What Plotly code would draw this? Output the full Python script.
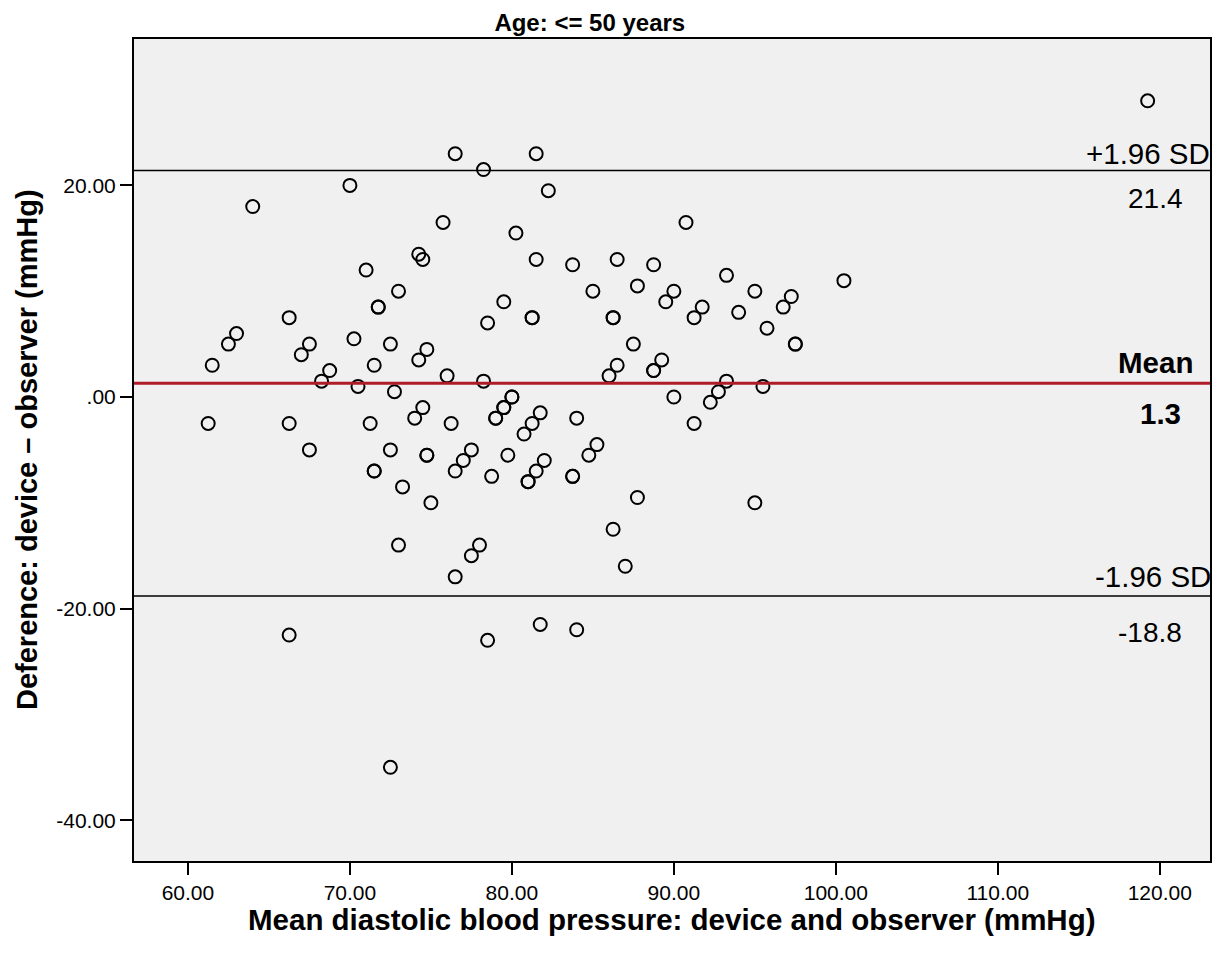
import plotly.graph_objects as go

# Mean of device and observer (x) and their difference (y)
mean_bp = [
    76.5, 78.25, 70.0, 64.0, 75.75, 74.25, 74.5, 71.0, 73.0, 71.75, 71.75, 66.25,
    81.5, 82.25, 90.75, 80.25, 81.5, 83.75, 86.5, 88.75, 85.0, 87.75, 90.0, 89.5,
    93.25, 95.0, 97.25, 96.75, 100.5, 79.5, 81.25, 81.25, 78.5, 86.25, 86.25, 91.75,
    91.25, 94.0, 95.75, 119.25,
    63.0, 62.5, 61.5, 67.5, 67.0, 70.25, 72.5, 74.75, 74.25, 71.5, 68.75, 68.25,
    70.5, 72.75, 76.0, 78.25, 61.25, 66.25, 71.25, 74.5, 74.0, 76.25, 67.5, 72.5,
    74.75, 74.75, 71.5, 71.5, 77.5, 77.0, 76.5, 73.25, 75.0, 73.0, 78.0, 77.5, 76.5,
    97.5, 97.5, 87.5, 86.5, 86.0, 89.25, 88.75, 88.75, 93.25, 92.75, 92.25, 95.5,
    80.0, 80.0, 79.5, 79.5, 79.0, 79.0, 90.0, 81.75, 81.25, 80.75, 84.0, 91.25,
    79.75, 78.75, 82.0, 81.5, 81.0, 81.0, 85.25, 84.75, 83.75, 83.75, 87.75, 95.0,
    86.25, 87.0,
    66.25, 78.5, 81.75, 84.0, 72.5,
]
diff_bp = [
    23.0, 21.5, 20.0, 18.0, 16.5, 13.5, 13.0, 12.0, 10.0, 8.5, 8.5, 7.5,
    23.0, 19.5, 16.5, 15.5, 13.0, 12.5, 13.0, 12.5, 10.0, 10.5, 10.0, 9.0,
    11.5, 10.0, 9.5, 8.5, 11.0, 9.0, 7.5, 7.5, 7.0, 7.5, 7.5, 8.5,
    7.5, 8.0, 6.5, 28.0,
    6.0, 5.0, 3.0, 5.0, 4.0, 5.5, 5.0, 4.5, 3.5, 3.0, 2.5, 1.5,
    1.0, 0.5, 2.0, 1.5, -2.5, -2.5, -2.5, -1.0, -2.0, -2.5, -5.0, -5.0,
    -5.5, -5.5, -7.0, -7.0, -5.0, -6.0, -7.0, -8.5, -10.0, -14.0, -14.0, -15.0, -17.0,
    5.0, 5.0, 5.0, 3.0, 2.0, 3.5, 2.5, 2.5, 1.5, 0.5, -0.5, 1.0,
    0.0, 0.0, -1.0, -1.0, -2.0, -2.0, 0.0, -1.5, -2.5, -3.5, -2.0, -2.5,
    -5.5, -7.5, -6.0, -7.0, -8.0, -8.0, -4.5, -5.5, -7.5, -7.5, -9.5, -10.0,
    -12.5, -16.0,
    -22.5, -23.0, -21.5, -22.0, -35.0,
]

mean_diff = 1.3
upper_loa = 21.4
lower_loa = -18.8

x_ticks = [60, 70, 80, 90, 100, 110, 120]
x_ticktext = ["60.00", "70.00", "80.00", "90.00", "100.00", "110.00", "120.00"]
y_ticks = [-40, -20, 0, 20]
y_ticktext = ["-40.00", "-20.00", ".00", "20.00"]

FONT = "Liberation Sans, Arial, sans-serif"

fig = go.Figure()
fig.add_trace(go.Scatter(
    x=mean_bp, y=diff_bp, mode="markers",
    marker=dict(symbol="circle-open", size=13, color="black",
                line=dict(width=2, color="black")),
    showlegend=False, hoverinfo="x+y",
))

# Limits of agreement and mean lines
fig.add_shape(type="line", xref="x domain", yref="y", x0=0, x1=1,
              y0=upper_loa, y1=upper_loa, line=dict(color="black", width=1.5))
fig.add_shape(type="line", xref="x domain", yref="y", x0=0, x1=1,
              y0=lower_loa, y1=lower_loa, line=dict(color="black", width=1.5))
fig.add_shape(type="line", xref="x domain", yref="y", x0=0, x1=1,
              y0=mean_diff, y1=mean_diff, line=dict(color="#ae1c28", width=3))

def lab(text, y, right_shift, yshift, size=29.5, bold=False):
    fig.add_annotation(
        xref="x domain", yref="y", x=1, y=y, text=text, showarrow=False,
        xanchor="right", yanchor="middle", xshift=right_shift, yshift=yshift,
        font=dict(family=FONT, size=size, color="black",
                  weight="bold" if bold else "normal"),
    )

lab("+1.96 SD", upper_loa, 2, 17)
lab(f"{upper_loa:.1f}", upper_loa, -25, -28, size=28)
lab("Mean", mean_diff, -15, 21, bold=True)
lab(f"{mean_diff:.1f}", mean_diff, -27, -30, bold=True)
lab("-1.96 SD", lower_loa, 3, 19)
lab(f"{lower_loa:.1f}", lower_loa, -26, -37, size=28)

# Axis titles
fig.add_annotation(xref="paper", yref="paper", x=0.5, y=0, yanchor="middle",
                   yshift=-58, showarrow=False,
                   text="Mean diastolic blood pressure: device and observer (mmHg)",
                   font=dict(family=FONT, size=29.5, color="black", weight="bold"))
fig.add_annotation(xref="paper", yref="paper", x=0, y=0.5, xanchor="center",
                   xshift=-107, showarrow=False, textangle=-90,
                   text="Deference: device \u2013 observer (mmHg)",
                   font=dict(family=FONT, size=29, color="black", weight="bold"))

# The page body adds an 8 px margin, so the figure is sized to fit inside it
fig.update_layout(
    width=1207, height=943,
    margin=dict(l=126, r=3, t=31, b=90),
    paper_bgcolor="white", plot_bgcolor="#f0f0f0",
    title=dict(text="Age: <= 50 years", xref="container", yref="container",
               x=0.482, y=1 - 15 / 943, xanchor="center", yanchor="middle",
               font=dict(family=FONT, size=24, color="black", weight="bold")),
    font=dict(family=FONT, color="black"),
)
fig.update_xaxes(range=[56.67, 123.1], tickvals=x_ticks, ticktext=x_ticktext,
                 showgrid=False, zeroline=False, showline=True, linecolor="black",
                 linewidth=2, mirror=True, ticks="outside", ticklen=12, tickwidth=2,
                 tickcolor="black", tickfont=dict(family=FONT, size=21, color="black"))
fig.update_yaxes(range=[-43.86, 33.84], tickvals=y_ticks, ticktext=y_ticktext,
                 showgrid=False, zeroline=False, showline=True, linecolor="black",
                 linewidth=2, mirror=True, ticks="outside", ticklen=12, tickwidth=2,
                 tickcolor="black", tickfont=dict(family=FONT, size=21, color="black"))

fig.write_html("out.html")
